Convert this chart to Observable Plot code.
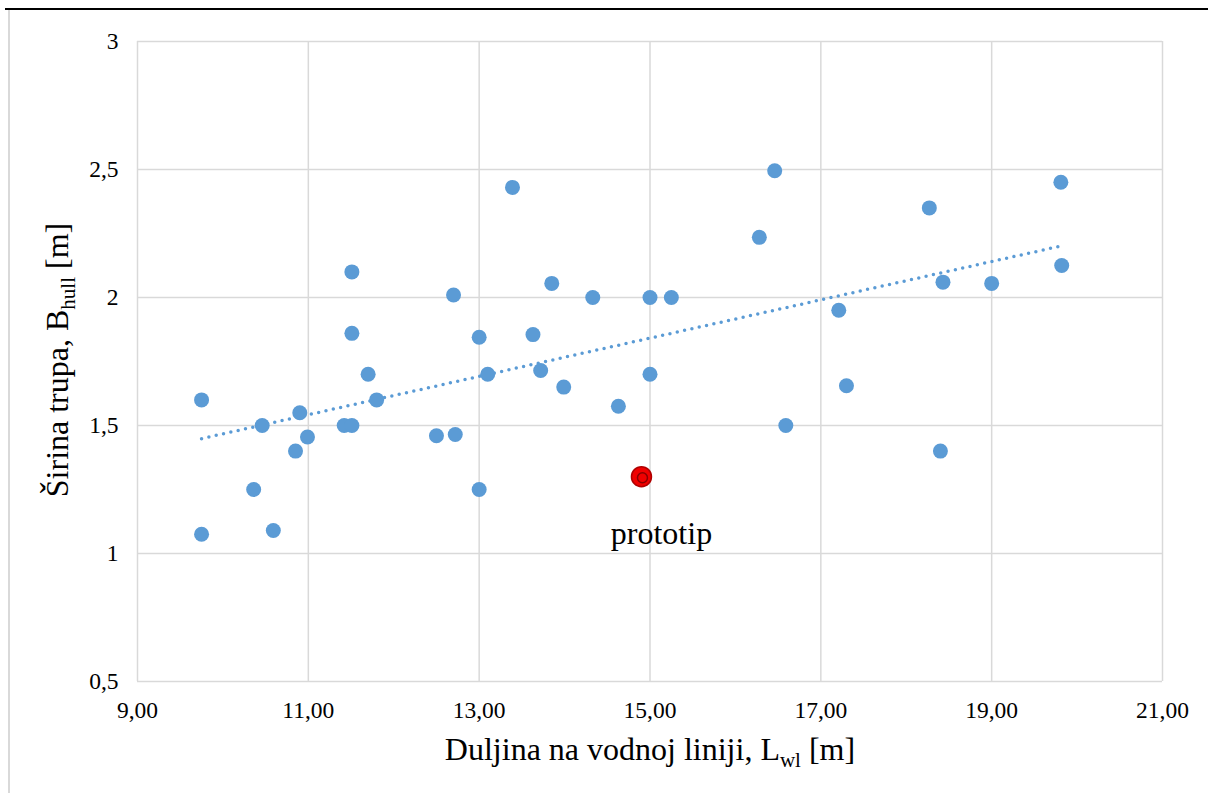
<!DOCTYPE html>
<html>
<head>
<meta charset="utf-8">
<script src="https://cdn.jsdelivr.net/npm/d3@7"></script>
<script src="https://cdn.jsdelivr.net/npm/@observablehq/plot@0.6"></script>
<style>
  html, body { margin: 0; padding: 0; background: #fff; }
  #wrap { position: relative; width: 1208px; height: 793px; overflow: hidden; }
  #topline { position: absolute; left: 5px; right: 0; top: 8px; height: 2px; background: #000; }
  #leftline { position: absolute; left: 8px; top: 10px; bottom: 0; width: 2px; background: #d9d9d9; }
  #chart { position: absolute; left: 0; top: 0; }
  #chart svg, #chart svg text { font-family: "Liberation Serif", "DejaVu Serif", serif !important; }
  #chart svg g[aria-label$="tick label"] { font-size: 23.5px !important; }
</style>
</head>
<body>
<div id="wrap">
  <div id="chart"></div>
  <div id="topline"></div>
  <div id="leftline"></div>
</div>
<script>
// Length on waterline L_wl [m]
const lengths = [9.75, 9.75, 10.46, 10.36, 10.59, 10.90, 10.85, 10.99, 11.42, 11.51,
  11.51, 11.51, 11.70, 11.80, 12.50, 12.72, 12.70, 13.00, 13.00, 13.10,
  13.39, 13.63, 13.72, 13.85, 13.99, 14.33, 14.63, 15.00, 15.00, 15.25,
  16.28, 16.46, 16.59, 17.21, 17.30, 18.27, 18.40, 18.43, 19.00, 19.81, 19.82];
// Hull beam B_hull [m]
const beams = [1.60, 1.075, 1.50, 1.25, 1.09, 1.55, 1.40, 1.455, 1.50, 1.50,
  2.10, 1.86, 1.70, 1.60, 1.46, 1.465, 2.01, 1.845, 1.25, 1.70,
  2.43, 1.855, 1.715, 2.055, 1.65, 2.00, 1.575, 2.00, 1.70, 2.00,
  2.235, 2.495, 1.50, 1.95, 1.655, 2.35, 1.40, 2.06, 2.055, 2.45, 2.125];
// Prototype
const protoLength = [14.90];
const protoBeam = [1.30];
const protoLabel = ["prototip"];

const xTicks = [9, 11, 13, 15, 17, 19, 21];
const yTicks = [0.5, 1, 1.5, 2, 2.5, 3];
const xTitle = ["Duljina na vodnoj liniji, L", "wl", " [m]"];
const yTitle = ["Širina trupa, B", "hull", " [m]"];

const vessels = lengths.map((L, i) => ({L, B: beams[i]}));
const proto = protoLength.map((L, i) => ({L, B: protoBeam[i], label: protoLabel[i]}));

const fmtX = d => d3.format(".2f")(d).replace(".", ",");
const fmtY = d => String(d).replace(".", ",");

const serif = "Liberation Serif";
const grid = "#d9d9d9";
const plot = Plot.plot({
  width: 1208,
  height: 793,
  marginLeft: 137,
  marginRight: 46,
  marginTop: 41,
  marginBottom: 112,
  style: {fontFamily: serif, fontSize: "23.5px", color: "#000", background: "transparent"},
  x: {domain: [9, 21], label: null},
  y: {domain: [0.5, 3], label: null},
  marks: [
    Plot.gridX(xTicks, {stroke: grid, strokeOpacity: 1, strokeWidth: 1.5}),
    Plot.gridY(yTicks, {stroke: grid, strokeOpacity: 1, strokeWidth: 1.5}),
    Plot.axisX({ticks: xTicks, tickFormat: fmtX, tickSize: 0, tickPadding: 20, fontSize: 23.5, fontFamily: serif, label: null}),
    Plot.axisY({ticks: yTicks, tickFormat: fmtY, tickSize: 0, tickPadding: 19, fontSize: 23.5, fontFamily: serif, label: null}),
    Plot.linearRegressionY(vessels, {x: "L", y: "B", ci: 0, stroke: "#5b9bd5", strokeWidth: 3.5, strokeDasharray: "0,7.5", strokeLinecap: "round"}),
    Plot.dot(vessels, {x: "L", y: "B", r: 7.5, fill: "#5b9bd5", stroke: "none"}),
    Plot.dot(proto, {x: "L", y: "B", r: 10, fill: "#f00000", stroke: "#b00000", strokeWidth: 1.5}),
    Plot.dot(proto, {x: "L", y: "B", r: 5, dx: 1, dy: 1, fill: "none", stroke: "#8a0000", strokeWidth: 1.5}),
    Plot.text(proto, {x: "L", y: "B", text: "label", dx: 20, dy: 57, fontSize: 32, fontFamily: serif, fill: "#000"})
  ]
});
document.getElementById("chart").appendChild(plot);

const svg = d3.select(plot);
function addTitle(parts, x, y, rotate) {
  const t = svg.append("text")
    .attr("text-anchor", "middle")
    .attr("font-size", 32)
    .attr("font-family", serif)
    .attr("fill", "#000")
    .attr("transform", `translate(${x},${y})` + (rotate ? " rotate(-90)" : ""));
  t.append("tspan").text(parts[0]);
  t.append("tspan").attr("font-size", 21).attr("dy", 7).text(parts[1]);
  t.append("tspan").attr("dy", -7).text(parts[2]);
}
addTitle(xTitle, 650, 760, false);
addTitle(yTitle, 68, 360, true);
</script>
</body>
</html>
